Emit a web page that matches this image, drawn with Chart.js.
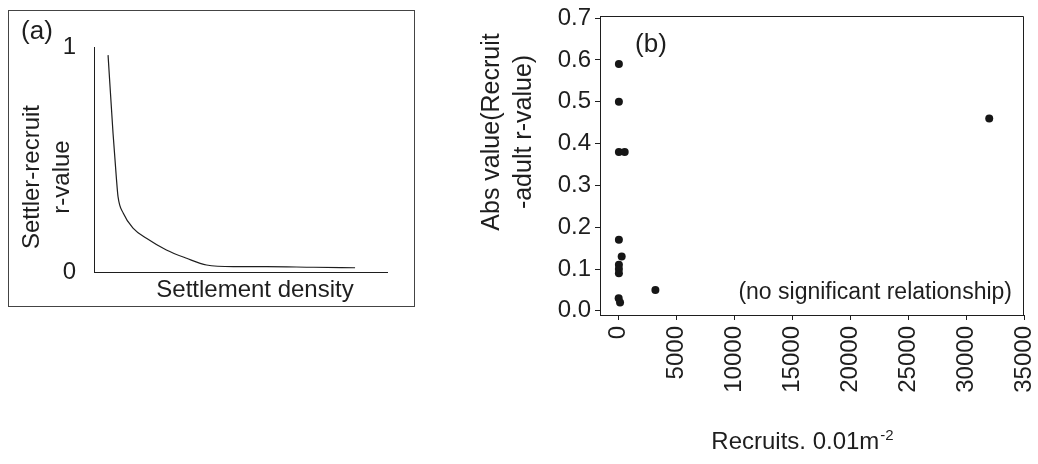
<!DOCTYPE html>
<html>
<head>
<meta charset="utf-8">
<title>Settler-recruit relationships</title>
<script src="https://cdn.jsdelivr.net/npm/chart.js@4/dist/chart.umd.min.js"></script>
<style>
  html, body { margin: 0; padding: 0; background: #fff; }
  body { width: 1038px; height: 464px; position: relative; overflow: hidden; }
  #panelA { position: absolute; left: 8px; top: 10px; width: 405px; height: 295px; border: 1px solid #444; }
  #panelB { position: absolute; left: 420px; top: 0; width: 618px; height: 464px; }
</style>
</head>
<body>
<div id="panelA"><canvas id="chartA"></canvas></div>
<div id="panelB"><canvas id="chartB"></canvas></div>

<script>
// Panel (a): conceptual curve, settler-recruit r-value vs settlement density
const densityX = [0.048, 0.065, 0.076, 0.082, 0.100, 0.134, 0.179, 0.247, 0.316, 0.384, 0.475, 0.589, 0.75, 0.891];
const rValueY = [0.964, 0.616, 0.424, 0.335, 0.261, 0.194, 0.150, 0.098, 0.061, 0.031, 0.024, 0.024, 0.021, 0.019];

// Panel (b): abs(recruit-adult r-value) vs recruits per 0.01 m^2
const recruits = [50, 50, 50, 550, 50, 290, 50, 50, 50, 30, 150, 3200, 32000];
const absR = [0.59, 0.50, 0.38, 0.38, 0.17, 0.13, 0.11, 0.10, 0.09, 0.03, 0.02, 0.05, 0.46];
const xTicksB = [0, 5000, 10000, 15000, 20000, 25000, 30000, 35000];
const yTicksB = [0, 0.1, 0.2, 0.3, 0.4, 0.5, 0.6, 0.7];

const FONT = '"Liberation Sans", Arial, Helvetica, sans-serif';
const INK = '#1e1e1e';

Chart.defaults.font.family = FONT;
Chart.defaults.color = INK;

/**
 * Plugin that writes loose labels (panel letters, axis titles, notes)
 */
function textLayer(id, items) {
    return {
        id,
        afterDraw(chart) {
            const ctx = chart.ctx;
            ctx.save();
            ctx.fillStyle = INK;
            items.forEach(it => {
                ctx.save();
                ctx.translate(it.x, it.y);
                if (it.rotate) ctx.rotate(it.rotate * Math.PI / 180);
                ctx.font = `${it.size}px ${FONT}`;
                ctx.textBaseline = it.baseline || 'middle';
                if (it.sup) {
                    // main text plus a raised superscript, centred together
                    const wm = ctx.measureText(it.text).width;
                    ctx.font = `${Math.round(it.size * 0.62)}px ${FONT}`;
                    const ws = ctx.measureText(it.sup).width;
                    const x0 = -(wm + ws) / 2;
                    ctx.textAlign = 'left';
                    ctx.fillText(it.sup, x0 + wm + 1, -it.size * 0.38);
                    ctx.font = `${it.size}px ${FONT}`;
                    ctx.fillText(it.text, x0, 0);
                } else {
                    ctx.textAlign = it.align || 'center';
                    ctx.fillText(it.text, 0, 0);
                }
                ctx.restore();
            });
            ctx.restore();
        }
    };
}

// Top and right edges of the frame in panel (b)
const frameB = {
    id: 'frameB',
    afterDraw(chart) {
        const { ctx, chartArea: a } = chart;
        ctx.save();
        ctx.strokeStyle = INK;
        ctx.lineWidth = 1;
        ctx.beginPath();
        ctx.moveTo(a.left, a.top + 0.5);
        ctx.lineTo(a.right - 0.5, a.top + 0.5);
        ctx.lineTo(a.right - 0.5, a.bottom);
        ctx.stroke();
        ctx.restore();
    }
};

// ---- Panel (a) ----
new Chart(document.getElementById('chartA'), {
    type: 'line',
    data: {
        datasets: [{
            data: densityX.map((x, i) => ({ x, y: rValueY[i] })),
            borderColor: INK,
            borderWidth: 1.2,
            pointRadius: 0,
            fill: false,
            cubicInterpolationMode: 'monotone'
        }]
    },
    options: {
        responsive: true,
        maintainAspectRatio: false,
        animation: false,
        events: [],
        layout: { padding: { top: 36, right: 27, left: 0, bottom: 0 } },
        plugins: { legend: { display: false }, tooltip: { enabled: false } },
        scales: {
            x: {
                type: 'linear',
                min: 0,
                max: 1,
                ticks: { display: false },
                grid: { display: false },
                border: { color: INK, width: 1 },
                afterFit: s => { s.height = 34; }
            },
            y: {
                min: 0,
                max: 1,
                ticks: {
                    stepSize: 1,
                    padding: 10,
                    color: INK,
                    font: { size: 24 },
                    callback: v => String(v)
                },
                grid: { display: false },
                border: { color: INK, width: 1 },
                afterFit: s => { s.width = 85; }
            }
        }
    },
    plugins: [textLayer('textA', [
        { text: '(a)', x: 28, y: 21, size: 26 },
        { text: 'Settler-recruit', x: 23, y: 166, size: 24, rotate: -90 },
        { text: 'r-value', x: 53, y: 166, size: 24, rotate: -90 },
        { text: 'Settlement density', x: 246, y: 286, size: 24, baseline: 'alphabetic' }
    ])]
});

// ---- Panel (b) ----
new Chart(document.getElementById('chartB'), {
    type: 'scatter',
    data: {
        datasets: [{
            data: recruits.map((x, i) => ({ x, y: absR[i] })),
            backgroundColor: '#161616',
            borderColor: '#161616',
            borderWidth: 0,
            pointRadius: 4,
            pointHoverRadius: 4
        }]
    },
    options: {
        responsive: true,
        maintainAspectRatio: false,
        animation: false,
        events: [],
        layout: { padding: { top: 16, right: 14, left: 0, bottom: 0 } },
        plugins: { legend: { display: false }, tooltip: { enabled: false } },
        scales: {
            x: {
                type: 'linear',
                min: -1580,
                max: 35000,
                afterBuildTicks: s => { s.ticks = xTicksB.map(value => ({ value })); },
                ticks: {
                    autoSkip: false,
                    minRotation: 90,
                    maxRotation: 90,
                    padding: 6,
                    color: INK,
                    font: { size: 24 },
                    callback: v => String(v)
                },
                grid: { drawOnChartArea: false, tickLength: 5, color: INK },
                border: { color: INK, width: 1 },
                afterFit: s => {
                    s.height = 149;
                    s.paddingLeft = 0;
                    s.paddingRight = 0;
                }
            },
            y: {
                min: -0.01,
                max: 0.705,
                afterBuildTicks: s => { s.ticks = yTicksB.map(value => ({ value })); },
                ticks: {
                    autoSkip: false,
                    padding: 4,
                    color: INK,
                    font: { size: 24 },
                    callback: v => v.toFixed(1)
                },
                grid: { drawOnChartArea: false, tickLength: 5, color: INK },
                border: { color: INK, width: 1 },
                afterFit: s => {
                    s.width = 180;
                    s.paddingTop = 0;
                    s.paddingBottom = 0;
                }
            }
        }
    },
    plugins: [frameB, textLayer('textB', [
        { text: '(b)', x: 231, y: 45, size: 26 },
        { text: 'Abs value(Recruit', x: 72, y: 132, size: 25, rotate: -90 },
        { text: '-adult r-value)', x: 104, y: 132, size: 25, rotate: -90 },
        { text: '(no significant relationship)', x: 592, y: 299, size: 23, align: 'right', baseline: 'alphabetic' },
        { text: 'Recruits. 0.01m', sup: '-2', x: 382, y: 449, size: 24, baseline: 'alphabetic' }
    ])]
});
</script>
</body>
</html>
